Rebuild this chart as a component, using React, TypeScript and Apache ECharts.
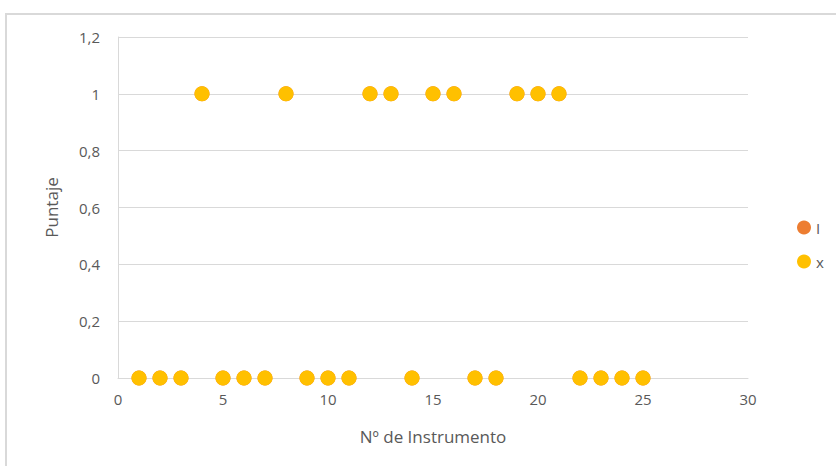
import React, { useEffect, useRef } from "react";
import * as echarts from "echarts";

const instruments = [1, 2, 3, 4, 5, 6, 7, 8, 9, 10, 11, 12, 13, 14, 15, 16, 17, 18, 19, 20, 21, 22, 23, 24, 25];
const scoresX = [0, 0, 0, 1, 0, 0, 0, 1, 0, 0, 0, 1, 1, 0, 1, 1, 0, 0, 1, 1, 1, 0, 0, 0, 0];
const scoresI = [0, 0, 0, 1, 0, 0, 0, 1, 0, 0, 0, 1, 1, 0, 1, 1, 0, 0, 1, 1, 1, 0, 0, 0, 0];
const seriesNames = ["I", "x"];

const FONT = "'Open Sans', 'Liberation Sans', sans-serif";

export default function App() {
  const ref = useRef<HTMLDivElement>(null);
  useEffect(() => {
    if (!ref.current) return;
    const chart = echarts.init(ref.current, null, { renderer: "svg" });
    const fmtY = (v: number) => String(Number(v.toFixed(1))).replace(".", ",");
    chart.setOption({
      animation: false,
      backgroundColor: "#ffffff",
      textStyle: { fontFamily: FONT },
      graphic: [
        {
          type: "rect",
          shape: { x: 6, y: 14, width: 900, height: 500 },
          style: { fill: "none", stroke: "#d9d9d9", lineWidth: 2 },
          silent: true,
        },
      ],
      grid: { left: 118, right: 88, top: 37, bottom: 88 },
      legend: {
        orient: "vertical",
        left: 792,
        top: 215,
        itemGap: 19,
        itemWidth: 14,
        itemHeight: 14,
        icon: "circle",
        textStyle: { color: "#595959", fontSize: 15, fontFamily: FONT },
        data: seriesNames,
      },
      xAxis: {
        type: "value",
        min: 0,
        max: 30,
        interval: 5,
        name: "Nº de Instrumento",
        nameLocation: "middle",
        nameGap: 50,
        nameTextStyle: { color: "#595959", fontSize: 17, fontFamily: FONT },
        axisLine: { show: true, lineStyle: { color: "#d9d9d9", width: 1 } },
        axisTick: { show: false },
        axisLabel: { color: "#595959", fontSize: 15, margin: 13, fontFamily: FONT },
        splitLine: { show: false },
      },
      yAxis: {
        type: "value",
        min: 0,
        max: 1.2,
        interval: 0.2,
        name: "Puntaje",
        nameLocation: "middle",
        nameGap: 58,
        nameRotate: 90,
        nameTextStyle: { color: "#595959", fontSize: 17, fontFamily: FONT },
        axisLine: { show: true, lineStyle: { color: "#d9d9d9", width: 1 } },
        axisTick: { show: false },
        axisLabel: { color: "#595959", fontSize: 15, margin: 18, formatter: fmtY, fontFamily: FONT },
        splitLine: { show: true, lineStyle: { color: "#d9d9d9", width: 1 } },
      },
      series: [
        {
          name: seriesNames[0],
          type: "scatter",
          symbol: "circle",
          symbolSize: 15,
          itemStyle: { color: "#ED7D31", opacity: 1 },
          data: instruments.map((x, i) => [x, scoresI[i]]),
        },
        {
          name: seriesNames[1],
          type: "scatter",
          symbol: "circle",
          symbolSize: 15,
          itemStyle: { color: "#FFC000", opacity: 1 },
          data: instruments.map((x, i) => [x, scoresX[i]]),
        },
      ],
    });
    return () => chart.dispose();
  }, []);
  return (
    <div
      ref={ref}
      style={{ position: "fixed", left: 0, top: 0, width: 836, height: 466 }}
    />
  );
}
